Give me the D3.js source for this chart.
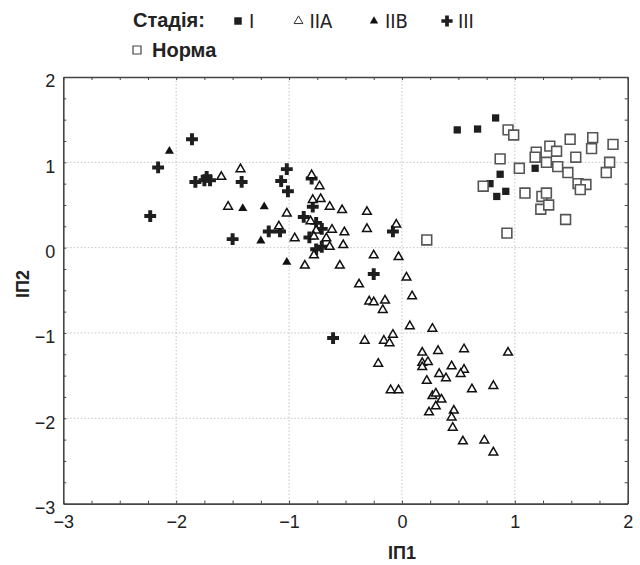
<html>
<head>
<meta charset="utf-8">
<script src="https://cdnjs.cloudflare.com/ajax/libs/d3/7.8.5/d3.min.js"></script>
<style>
body, html { margin: 0; padding: 0; background: white; }
.tick-label { font-family: "Liberation Sans", Arial, sans-serif; font-size: 18px; fill: #222; }
.title { font-family: "Liberation Sans", Arial, sans-serif; font-weight: bold; fill: #222; }
</style>
</head>
<body>
<div id="chart"></div>
<script>
// data: [ІП1, ІП2]
var stageI = [[0.49,1.38],[0.67,1.39],[0.83,1.52],[1.18,0.93],[0.87,0.86],[0.78,0.75],[0.92,0.66],[0.84,0.60]]

var stageIIA = [[-1.60,0.83],[-1.43,0.92],[-1.54,0.48],[-1.09,0.25],[-1.02,0.40],[-0.95,0.11],
  [-0.80,0.85],[-0.73,0.72],[-0.79,0.56],[-0.72,0.57],[-0.64,0.48],[-0.53,0.44],[-0.31,0.42],
  [-0.31,0.22],[-0.05,0.27],[-0.81,0.31],[-0.76,0.20],[-0.78,0.13],[-0.67,0.11],[-0.62,0.21],
  [-0.51,0.18],[-0.64,0.01],[-0.52,0.03],[-0.78,-0.09],[-0.86,-0.21],[-0.55,-0.21],[-0.25,-0.09],
  [-0.03,-0.11],[-0.38,-0.43],[0.04,-0.35],[0.09,-0.57],[-0.29,-0.63],[-0.25,-0.64],[-0.15,-0.62],
  [-0.17,-0.73],[0.07,-0.92],[0.27,-0.95],[-0.33,-1.09],[-0.16,-1.09],[-0.08,-1.02],[-0.11,-1.12],
  [-0.21,-1.36],[0.18,-1.23],[0.32,-1.21],[0.55,-1.19],[0.94,-1.23],[0.18,-1.35],[0.23,-1.34],
  [0.18,-1.40],[0.44,-1.39],[0.55,-1.43],[0.52,-1.48],[0.33,-1.48],[0.39,-1.53],[0.22,-1.56],
  [0.62,-1.66],[0.81,-1.62],[-0.10,-1.67],[-0.03,-1.67],[0.27,-1.74],[0.30,-1.71],[0.35,-1.78],
  [0.30,-1.86],[0.24,-1.93],[0.46,-1.91],[0.44,-1.99],[0.45,-2.11],[0.54,-2.27],[0.73,-2.26],
  [0.81,-2.40]]

var stageIIB = [[-2.06,1.13],[-1.41,0.46],[-1.22,0.48],[-1.25,0.08],[-1.02,-0.17]]

var stageIII = [[-1.86,1.27],[-2.16,0.94],[-2.23,0.37],[-1.83,0.77],[-1.75,0.79],[-1.70,0.79],
  [-1.73,0.83],[-1.42,0.77],[-1.50,0.10],[-1.18,0.19],[-1.08,0.19],[-1.07,0.78],[-1.02,0.92],
  [-1.01,0.66],[-0.80,0.81],[-0.79,0.48],[-0.87,0.36],[-0.76,0.29],[-0.71,0.22],[-0.82,0.12],
  [-0.76,-0.02],[-0.71,0.01],[-0.08,0.19],[-0.25,-0.31],[-0.61,-1.06]]

var norma = [[0.94,1.38],[0.99,1.32],[0.87,1.04],[1.04,0.93],[0.72,0.72],[1.09,0.64],[0.93,0.17],
  [1.19,1.12],[1.18,1.06],[1.31,1.19],[1.37,1.13],[1.28,1.00],[1.49,1.27],[1.54,1.06],[1.38,0.95],
  [1.47,0.88],[1.69,1.29],[1.68,1.16],[1.87,1.21],[1.84,1.00],[1.81,0.88],[1.56,0.75],[1.63,0.74],
  [1.58,0.68],[1.24,0.60],[1.28,0.64],[1.23,0.45],[1.30,0.50],[1.45,0.33],[0.22,0.09]]

var xTicks = [-3,-2,-1,0,1,2]
var yTicks = [-3,-2,-1,0,1,2]

var W = 640, H = 565
var svg = d3.select("#chart").append("svg").attr("width", W).attr("height", H)

var x = d3.scaleLinear().domain([-3,2]).range([63.3, 627.7])
var y = d3.scaleLinear().domain([-3,2]).range([503.6, 77])

var minorX = d3.range(-3, 2.001, 0.25)
var minorY = d3.range(-3, 2.001, 0.25)

// grid
var grid = svg.append("g")
grid.selectAll(".gx").data(xTicks.slice(1, -1)).enter().append("line")
  .attr("x1", d => x(d)).attr("x2", d => x(d)).attr("y1", y(2)).attr("y2", y(-3))
  .style("stroke", "#c4c4c4").style("stroke-dasharray", "1.5,2").style("stroke-width", 1)
grid.selectAll(".gy").data(yTicks.slice(1, -1)).enter().append("line")
  .attr("y1", d => y(d)).attr("y2", d => y(d)).attr("x1", x(-3)).attr("x2", x(2))
  .style("stroke", "#c4c4c4").style("stroke-dasharray", "1.5,2").style("stroke-width", 1)

// axes (box with inward ticks)
var fmt = d3.format("d")
function styleAxis(g) {
  g.select(".domain").style("stroke", "#444").style("stroke-width", 1.6)
  g.selectAll(".tick line").style("stroke", "#444")
  g.selectAll("text").attr("class", "tick-label")
}
svg.append("g").attr("transform", "translate(0," + y(-3) + ")")
  .call(d3.axisBottom(x).tickValues(minorX).tickSize(-3).tickSizeOuter(0).tickFormat(""))
  .call(styleAxis)
svg.append("g").attr("transform", "translate(0," + y(2) + ")")
  .call(d3.axisTop(x).tickValues(minorX).tickSize(-3).tickSizeOuter(0).tickFormat(""))
  .call(styleAxis)
svg.append("g").attr("transform", "translate(" + x(-3) + ",0)")
  .call(d3.axisLeft(y).tickValues(minorY).tickSize(-3).tickSizeOuter(0).tickFormat(""))
  .call(styleAxis)
svg.append("g").attr("transform", "translate(" + x(2) + ",0)")
  .call(d3.axisRight(y).tickValues(minorY).tickSize(-3).tickSizeOuter(0).tickFormat(""))
  .call(styleAxis)

// tick labels
svg.append("g").attr("transform", "translate(0," + y(-3) + ")")
  .call(d3.axisBottom(x).tickValues(xTicks).tickSize(0).tickPadding(12).tickFormat(fmt))
  .call(g => g.select(".domain").remove())
  .selectAll("text").attr("class", "tick-label")
svg.append("g").attr("transform", "translate(" + x(-3) + ",0)")
  .call(d3.axisLeft(y).tickValues(yTicks).tickSize(0).tickPadding(8).tickFormat(fmt))
  .call(g => g.select(".domain").remove())
  .selectAll("text").attr("class", "tick-label").attr("dy", "0.55em")

// axis titles
svg.append("text").attr("class", "title").attr("x", x(0)).attr("y", 559)
  .attr("text-anchor", "middle").style("font-size", "18px").text("ІП1")
svg.append("text").attr("class", "title")
  .attr("transform", "translate(29,284) rotate(-90)")
  .attr("text-anchor", "middle").style("font-size", "18px").text("ІП2")

// markers
var sym = {
  I: d3.symbol().type(d3.symbolSquare).size(53),
  N: d3.symbol().type(d3.symbolSquare).size(96),
  A: d3.symbol().type(d3.symbolTriangle).size(33),
  B: d3.symbol().type(d3.symbolTriangle).size(36),
  P: d3.symbol().type(d3.symbolCross).size(78)
}
function drawSeries(data, s, fill, stroke, sw) {
  svg.append("g").selectAll("path").data(data).enter().append("path")
    .attr("d", sym[s])
    .attr("transform", d => "translate(" + x(d[0]) + "," + y(d[1]) + ")")
    .style("fill", fill).style("stroke", stroke).style("stroke-width", sw)
}
drawSeries(stageI, "I", "#1e1e1e", "none", 0)
drawSeries(norma, "N", "white", "#555", 1.6)
drawSeries(stageIII, "P", "#1e1e1e", "none", 0)
drawSeries(stageIIB, "B", "#111", "none", 0)
drawSeries(stageIIA, "A", "white", "#111", 1.5)

// legend
var lg = svg.append("g")
lg.append("text").attr("class", "title").attr("x", 133).attr("y", 27)
  .style("font-size", "20px").text("Стадія:")
var legendItems = [
  {s: d3.symbolSquare, size: 56, fill: "#1e1e1e", stroke: "none", x: 238, label: "I"},
  {s: d3.symbolTriangle, size: 34, fill: "white", stroke: "#333", x: 298.5, label: "IIA"},
  {s: d3.symbolTriangle, size: 30, fill: "#111", stroke: "none", x: 374, label: "IIB"},
  {s: d3.symbolCross, size: 70, fill: "#1e1e1e", stroke: "none", x: 447, label: "III"}
]
legendItems.forEach(function(it) {
  lg.append("path").attr("d", d3.symbol().type(it.s).size(it.size)())
    .attr("transform", "translate(" + it.x + ",21)")
    .style("fill", it.fill).style("stroke", it.stroke).style("stroke-width", 1)
  lg.append("text").attr("x", it.x + 11).attr("y", 28)
    .style("font-family", "'DejaVu Sans Condensed', 'Liberation Sans Narrow', sans-serif")
    .style("font-size", "20px").style("fill", "#222").text(it.label)
})
lg.append("path").attr("d", d3.symbol().type(d3.symbolSquare).size(64)())
  .attr("transform", "translate(137,50)")
  .style("fill", "white").style("stroke", "#444").style("stroke-width", 1.2)
lg.append("text").attr("class", "title").attr("x", 152).attr("y", 57)
  .style("font-size", "20px").text("Норма")
</script>
</body>
</html>
